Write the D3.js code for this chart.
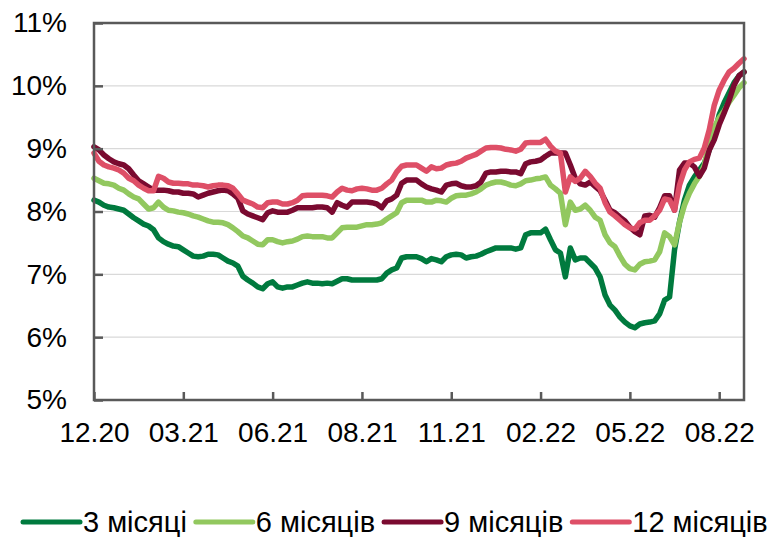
<!DOCTYPE html>
<html>
<head>
<meta charset="utf-8">
<script src="https://cdn.jsdelivr.net/npm/d3@7"></script>
<style>
  html, body { margin: 0; padding: 0; background: #fff; }
  svg { display: block; font-family: "Liberation Sans", Arial, sans-serif; }
</style>
</head>
<body>
<div class="chart"></div>
<script>
// Dane: indeks dnia (krok) i rentowność, %
var idx = d3.range(0, 132);

var tickIdx = [0, 18, 36, 54, 72, 90, 108, 126];
var tickLabels = ["12.20", "03.21", "06.21", "08.21", "11.21", "02.22", "05.22", "08.22"];
var yTicks = [5, 6, 7, 8, 9, 10, 11];

var seriesNames = ["3 місяці", "6 місяців", "9 місяців", "12 місяців"];
var seriesColors = ["#007a3e", "#92c85f", "#7a0a30", "#de4f67"];

var m3 = [8.18,8.15,8.10,8.07,8.06,8.04,8.02,7.96,7.90,7.85,7.80,7.77,7.71,7.58,7.52,7.48,7.45,7.44,7.39,7.34,
  7.29,7.28,7.29,7.32,7.32,7.31,7.26,7.21,7.18,7.13,6.97,6.91,6.86,6.80,6.77,6.85,6.88,6.80,6.78,6.80,
  6.80,6.83,6.86,6.88,6.86,6.86,6.85,6.86,6.85,6.89,6.93,6.93,6.91,6.91,6.91,6.91,6.91,6.91,6.93,7.02,
  7.07,7.10,7.26,7.28,7.28,7.28,7.25,7.20,7.25,7.23,7.20,7.28,7.31,7.32,7.31,7.26,7.28,7.29,7.32,7.36,
  7.39,7.42,7.42,7.42,7.42,7.40,7.42,7.63,7.66,7.66,7.66,7.72,7.55,7.39,7.34,6.96,7.42,7.23,7.26,7.26,
  7.18,7.10,6.96,6.67,6.51,6.43,6.32,6.24,6.18,6.15,6.21,6.23,6.24,6.26,6.37,6.59,6.64,7.39,7.83,8.18,
  8.42,8.55,8.66,8.77,8.98,9.22,9.54,9.73,9.89,10.05,10.16,10.22];

var m6 = [8.53,8.49,8.45,8.44,8.42,8.37,8.34,8.28,8.23,8.20,8.12,8.04,8.06,8.15,8.07,8.02,8.01,7.99,7.98,7.96,
  7.93,7.91,7.88,7.85,7.83,7.83,7.82,7.79,7.74,7.68,7.61,7.58,7.53,7.48,7.47,7.55,7.55,7.52,7.50,7.52,
  7.53,7.56,7.60,7.61,7.60,7.60,7.60,7.58,7.58,7.66,7.74,7.75,7.75,7.75,7.77,7.79,7.79,7.80,7.82,7.88,
  7.93,7.98,8.14,8.18,8.18,8.18,8.18,8.15,8.15,8.18,8.17,8.15,8.21,8.25,8.26,8.26,8.28,8.31,8.36,8.42,
  8.45,8.47,8.47,8.45,8.42,8.41,8.44,8.49,8.50,8.52,8.53,8.55,8.42,8.36,8.29,7.79,8.15,8.02,8.04,8.10,
  8.02,7.91,7.86,7.63,7.50,7.44,7.29,7.16,7.09,7.07,7.16,7.20,7.21,7.23,7.36,7.66,7.60,7.47,7.83,8.10,
  8.29,8.44,8.56,8.74,9.09,9.34,9.49,9.60,9.74,9.85,9.97,10.05];

var m9 = [9.03,8.98,8.90,8.84,8.79,8.76,8.74,8.68,8.58,8.49,8.44,8.39,8.34,8.34,8.34,8.33,8.31,8.31,8.29,8.29,
  8.28,8.23,8.26,8.29,8.31,8.33,8.34,8.33,8.28,8.21,8.01,7.96,7.93,7.90,7.87,7.98,8.01,7.99,7.99,7.99,
  8.02,8.06,8.06,8.06,8.06,8.07,8.07,8.06,7.99,8.14,8.10,8.07,8.15,8.15,8.15,8.15,8.14,8.12,8.06,8.17,
  8.20,8.26,8.45,8.50,8.50,8.50,8.44,8.39,8.36,8.34,8.31,8.42,8.44,8.45,8.41,8.39,8.39,8.41,8.47,8.61,
  8.63,8.63,8.64,8.64,8.63,8.63,8.60,8.76,8.79,8.80,8.82,8.88,8.93,8.93,8.93,8.93,8.74,8.53,8.44,8.42,
  8.47,8.40,8.33,8.18,8.02,7.98,7.91,7.85,7.75,7.68,7.63,7.93,7.94,7.91,8.06,8.25,8.25,8.02,8.66,8.77,
  8.77,8.71,8.56,8.69,8.98,9.14,9.38,9.57,9.77,10.01,10.16,10.22];

var m12 = [8.93,8.80,8.74,8.71,8.69,8.66,8.61,8.53,8.49,8.42,8.37,8.33,8.33,8.56,8.53,8.47,8.45,8.45,8.44,8.44,
  8.42,8.42,8.41,8.39,8.41,8.42,8.42,8.41,8.37,8.28,8.18,8.15,8.12,8.07,8.06,8.14,8.15,8.15,8.12,8.12,
  8.14,8.18,8.25,8.26,8.26,8.26,8.26,8.25,8.23,8.31,8.37,8.34,8.33,8.36,8.37,8.36,8.34,8.34,8.37,8.44,
  8.50,8.63,8.72,8.74,8.74,8.74,8.69,8.64,8.71,8.68,8.69,8.74,8.76,8.77,8.80,8.85,8.88,8.91,8.96,9.01,
  9.02,9.02,9.01,8.99,8.98,8.96,8.99,9.09,9.10,9.10,9.10,9.15,9.04,8.96,8.93,8.31,8.55,8.48,8.53,8.64,
  8.56,8.45,8.37,8.14,7.99,7.93,7.86,7.79,7.74,7.72,7.82,7.86,7.86,7.93,8.02,8.20,8.18,8.02,8.42,8.66,
  8.79,8.83,8.85,9.01,9.30,9.69,9.93,10.09,10.22,10.28,10.36,10.43];

var series = [m3, m6, m9, m12];

function drawChart() {
    var width = 771, height = 537;
    var pl = 94, pr = 744, pt = 23, pb = 400;

    var svg = d3.select(".chart").append("svg")
        .attr("width", width)
        .attr("height", height);

    var x = d3.scaleLinear().domain([0, 131]).range([pl, pr]);
    var y = d3.scaleLinear().domain([5, 11]).range([pb, pt]);

    // siatka
    svg.append("g")
        .selectAll("line")
        .data(yTicks.slice(1, -1))
        .enter().append("line")
        .attr("x1", pl).attr("x2", pr)
        .attr("y1", function(d) { return y(d); })
        .attr("y2", function(d) { return y(d); })
        .attr("stroke", "#d9d9d9")
        .attr("stroke-width", 1.2);

    // linie
    var line = d3.line()
        .x(function(d, i) { return x(idx[i]); })
        .y(function(d) { return y(d); });

    svg.append("g")
        .selectAll("path")
        .data(series)
        .enter().append("path")
        .attr("d", line)
        .attr("fill", "none")
        .attr("stroke", function(d, i) { return seriesColors[i]; })
        .attr("stroke-width", 5.5)
        .attr("stroke-linejoin", "round")
        .attr("stroke-linecap", "round");

    // ramka
    svg.append("rect")
        .attr("x", pl).attr("y", pt)
        .attr("width", pr - pl).attr("height", pb - pt)
        .attr("fill", "none")
        .attr("stroke", "#595959")
        .attr("stroke-width", 2.5);

    // oś Y
    var yAxis = svg.append("g")
        .attr("transform", "translate(" + pl + ",0)")
        .call(d3.axisLeft(y).tickValues(yTicks).tickSize(-9).tickPadding(27)
            .tickFormat(function(d) { return d + "%"; }));
    yAxis.select(".domain").remove();
    yAxis.selectAll(".tick line").attr("stroke", "#595959").attr("stroke-width", 2.5);
    yAxis.selectAll("text")
        .attr("font-size", 28)
        .attr("font-family", "Liberation Sans, Arial, sans-serif")
        .attr("fill", "#000");

    // oś X
    var xAxis = svg.append("g")
        .attr("transform", "translate(0," + pb + ")")
        .call(d3.axisBottom(x).tickValues(tickIdx).tickSize(-8).tickPadding(22)
            .tickFormat(function(d, i) { return tickLabels[i]; }));
    xAxis.select(".domain").remove();
    xAxis.selectAll(".tick line").attr("stroke", "#595959").attr("stroke-width", 2.5);
    xAxis.selectAll("text")
        .attr("font-size", 28)
        .attr("font-family", "Liberation Sans, Arial, sans-serif")
        .attr("fill", "#000");

    // legenda
    var legend = svg.append("g").attr("transform", "translate(0,522)");
    var lx = 23;
    seriesNames.forEach(function(name, i) {
        legend.append("line")
            .attr("x1", lx).attr("x2", lx + 57)
            .attr("y1", 0).attr("y2", 0)
            .attr("stroke", seriesColors[i])
            .attr("stroke-width", 5)
            .attr("stroke-linecap", "round");
        var t = legend.append("text")
            .attr("x", lx + 60)
            .attr("y", 10)
            .attr("font-size", 29)
            .attr("fill", "#000")
            .text(name);
        lx = lx + 60 + t.node().getComputedTextLength() + 9;
    });
}

drawChart();
</script>
</body>
</html>
